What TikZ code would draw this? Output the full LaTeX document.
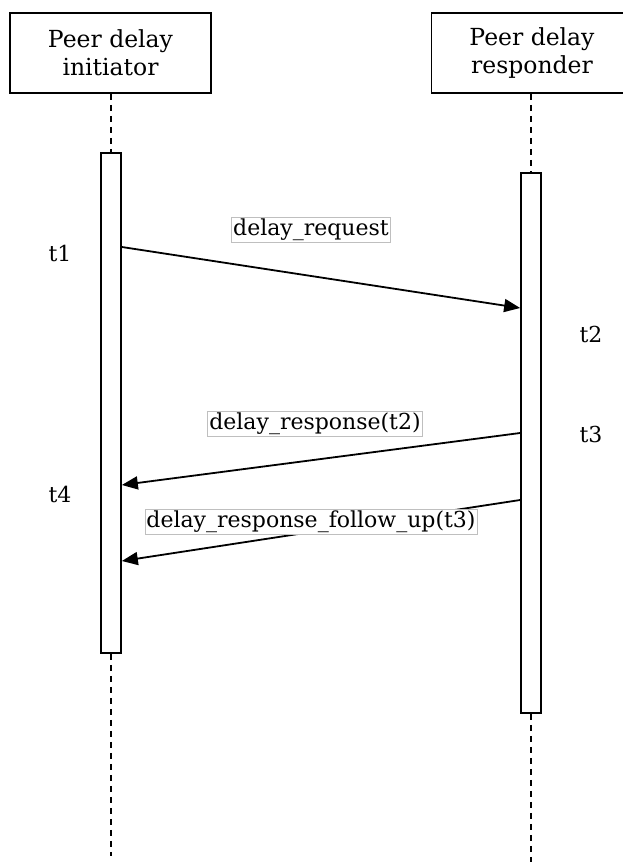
\documentclass[tikz,border=0pt]{standalone}
\usepackage{fontspec}
\setmainfont{DejaVu Serif}
\usetikzlibrary{arrows.meta}
\begin{document}
\begin{tikzpicture}[x=1pt,y=-1pt,
  every node/.style={font=\fontsize{22}{26}\selectfont},
  actor/.style={draw,line width=1.7pt,fill=white,minimum width=201pt,minimum height=80pt,align=center,inner sep=0pt,
    font=\fontsize{23.5}{28}\selectfont},
  lifeline/.style={dashed,line width=1.7pt,dash pattern=on 6pt off 5pt},
  activation/.style={draw,line width=1.7pt,fill=white,minimum width=20pt,inner sep=0pt},
  msg/.style={line width=1.8pt,-{Triangle[length=16pt,width=13pt]}},
  msglabel/.style={draw=black!25,line width=0.7pt,fill=white,inner sep=1.5pt},
  timelabel/.style={inner sep=0pt}]
\useasboundingbox (0,0) rectangle (622,864);
% participants
\node[actor] (ini) at (110.5,53) {Peer delay\\initiator};
\node[actor] (res) at (532,53) {Peer delay\\responder};
% lifeline ends
\coordinate (iniend) at (111,856);
\coordinate (resend) at (531,862);
% activation bars
\node[activation,minimum height=500pt] (iact) at (111,403) {};
\node[activation,minimum height=540pt] (ract) at (531,443) {};
% dashed lifelines
\draw[lifeline] (ini.south -| iact.north) -- (iact.north);
\draw[lifeline] (iact.south) -- (iniend);
\draw[lifeline] (res.south -| ract.north) -- (ract.north);
\draw[lifeline] (ract.south) -- (resend);
% messages
\draw[msg] (iact.east |- 0,247) -- (ract.west |- 0,308);
\draw[msg] (ract.west |- 0,433) -- (iact.east |- 0,485);
\draw[msg] (ract.west |- 0,500) -- (iact.east |- 0,561);
% message labels
\node[msglabel] (l1) at (311,230) {delay\_request};
\node[msglabel] (l2) at (315,424) {delay\_response(t2)};
\node[msglabel] (l3) at (311,522) {delay\_response\_follow\_up(t3)};
% timestamps
\node[timelabel] (t1) at (60,253) {t1};
\node[timelabel] (t2) at (591,334) {t2};
\node[timelabel] (t3) at (591,434) {t3};
\node[timelabel] (t4) at (60,494) {t4};
\end{tikzpicture}
\end{document}
